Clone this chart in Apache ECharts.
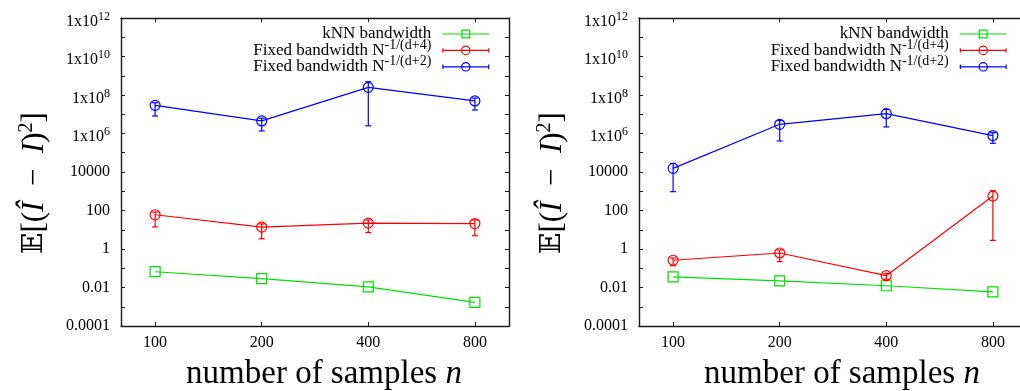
<!DOCTYPE html>
<html>
<head>
<meta charset="utf-8">
<script src="https://cdn.jsdelivr.net/npm/echarts@6/dist/echarts.min.js"></script>
<style>
  html, body { margin: 0; padding: 0; background: #fff; }
  #chart { width: 1020px; height: 391px; }
</style>
</head>
<body>
<div id="chart"></div>
<script>
// Sample sizes on the x axis (evenly spaced doublings)
const sampleSizes = ['100', '200', '400', '800'];

// Labels for the even decades of the log y axis, 1e-4 ... 1e12
const yTickLabels = ['0.0001', '0.01', '1', '100', '10000', '1x10^6', '1x10^8', '1x10^10', '1x10^12'];

const seriesNames = ['kNN bandwidth', 'Fixed bandwidth N^-1/(d+4)', 'Fixed bandwidth N^-1/(d+2)'];
const seriesColors = ['#00e000', '#ff0000', '#0000ff'];

// Left panel: mean squared error and error-bar ranges
const knnA = [0.066, 0.029, 0.0107, 0.0017];
const fixed4A = [60, 13.8, 22, 21];
const fixed4ALow = [14, 3.4, 7.1, 4.9];
const fixed4AHigh = [83, 20, 32, 32];
const fixed2A = [2.9e7, 4.5e6, 2.5e8, 4.9e7];
const fixed2ALow = [8.1e6, 1.35e6, 2.5e6, 1.66e7];
const fixed2AHigh = [4.0e7, 6.2e6, 4.9e8, 6.9e7];

// Right panel
const knnB = [0.036, 0.022, 0.0123, 0.0059];
const fixed4B = [0.26, 0.62, 0.041, 560];
const fixed4BLow = [0.135, 0.22, 0.027, 2.8];
const fixed4BHigh = [0.34, 0.89, 0.054, 1070];
const fixed2B = [1.55e4, 3.0e6, 1.07e7, 7.8e5];
const fixed2BLow = [950, 4.1e5, 2.2e6, 3.1e5];
const fixed2BHigh = [2.8e4, 4.7e6, 1.8e7, 1.1e6];

const SERIF = '"Liberation Serif", "Times New Roman", serif';
const FRAME = '#1a1a1a';

// Legend samples: line with marker, plus end caps for the error-bar series
const ICON_SQUARE = 'path://M0 4.4H19V5.6H0Z M28 4.4H47V5.6H28Z M20.2 4.4H26.8V5.6H20.2Z ' +
  'M19 0.5H28V9.5H19Z M20.2 1.7V8.3H26.8V1.7Z';
const ICON_CIRCLE_BAR = 'path://M0 2.8H1.2V7.2H0Z M45.8 2.8H47V7.2H45.8Z ' +
  'M0 4.4H18.7V5.6H0Z M28.3 4.4H47V5.6H28.3Z M19.9 4.4H27.1V5.6H19.9Z ' +
  'M28.3 5A4.8 4.8 0 1 1 18.7 5A4.8 4.8 0 1 1 28.3 5Z ' +
  'M27.1 5A3.6 3.6 0 1 0 19.9 5A3.6 3.6 0 1 0 27.1 5Z';
const legendIcons = [ICON_SQUARE, ICON_CIRCLE_BAR, ICON_CIRCLE_BAR];

function toPairs(values) {
  return values.map((v, i) => [i, v]);
}
function toBars(low, high) {
  return low.map((v, i) => [i, v, high[i]]);
}

function yLabel(value) {
  const e = Math.round(Math.log10(value));
  if (e % 2 !== 0) return '';
  const txt = yTickLabels[(e + 4) / 2];
  if (txt.indexOf('^') >= 0) {
    const parts = txt.split('^');
    return '{b|' + parts[0] + '}{sup|' + parts[1] + '}';
  }
  return txt;
}

// Every legend row gets a superscript slot so all rows share one line height
function legendLabel(name) {
  const parts = name.split('^');
  return '{m|' + parts[0] + '}{s|' + (parts[1] || '\u200b') + '}';
}

function renderErrorBar(params, api) {
  const x = api.value(0);
  const lo = api.coord([x, api.value(1)]);
  const hi = api.coord([x, api.value(2)]);
  const w = 3;
  const style = { stroke: api.visual('color'), lineWidth: 1.2, fill: null };
  return {
    type: 'group',
    children: [
      { type: 'line', shape: { x1: lo[0], y1: lo[1], x2: hi[0], y2: hi[1] }, style: style },
      { type: 'line', shape: { x1: lo[0] - w, y1: lo[1], x2: lo[0] + w, y2: lo[1] }, style: style },
      { type: 'line', shape: { x1: hi[0] - w, y1: hi[1], x2: hi[0] + w, y2: hi[1] }, style: style }
    ]
  };
}

const panels = [
  { left: 121, legendRight: 530.7, knn: knnA, f4: fixed4A, f4Low: fixed4ALow, f4High: fixed4AHigh,
    f2: fixed2A, f2Low: fixed2ALow, f2High: fixed2AHigh },
  { left: 639, legendRight: 13.3, knn: knnB, f4: fixed4B, f4Low: fixed4BLow, f4High: fixed4BHigh,
    f2: fixed2B, f2Low: fixed2BLow, f2High: fixed2BHigh }
];

const grid = [], xAxis = [], yAxis = [], series = [], legend = [];
const LEGEND_LINE = 24;

panels.forEach((p, k) => {
  grid.push({ left: p.left, top: 18, width: 388, height: 308, containLabel: false,
    outerBoundsMode: 'none' });

  const xBase = {
    gridIndex: k, type: 'value', min: -0.32, max: 3.32,
    splitLine: { show: false },
    axisLine: { show: true, onZero: false, lineStyle: { color: FRAME, width: 1.4 } },
    axisTick: { show: true, inside: true, length: 4, customValues: [0, 1, 2, 3],
      lineStyle: { color: FRAME, width: 1 } }
  };
  xAxis.push(Object.assign({}, xBase, {
    position: 'bottom',
    axisLabel: { show: true, customValues: [0, 1, 2, 3], margin: 9,
      formatter: v => sampleSizes[Math.round(v)],
      fontFamily: SERIF, fontSize: 16, color: '#000' },
    name: '{t|number of samples }{i|n}',
    nameLocation: 'middle', nameGap: 32,
    nameTextStyle: {
      padding: [0, 0, 0, 18],
      rich: {
        t: { fontFamily: SERIF, fontSize: 33, color: '#000' },
        i: { fontFamily: SERIF, fontSize: 33, fontStyle: 'italic', color: '#000' }
      }
    }
  }));
  xAxis.push(Object.assign({}, xBase, { position: 'top', axisLabel: { show: false } }));

  const yBase = {
    gridIndex: k, type: 'log', logBase: 10, min: 1e-4, max: 1e12, interval: 1,
    splitLine: { show: false },
    minorTick: { show: false },
    axisLine: { show: true, onZero: false, lineStyle: { color: FRAME, width: 1.4 } },
    axisTick: { show: true, inside: true, length: 4, lineStyle: { color: FRAME, width: 1 } }
  };
  yAxis.push(Object.assign({}, yBase, {
    position: 'left',
    axisLabel: {
      show: true, margin: 11, formatter: yLabel,
      fontFamily: SERIF, fontSize: 16, color: '#000',
      rich: {
        b: { fontFamily: SERIF, fontSize: 16, lineHeight: 16, color: '#000', padding: [7, 0, 0, 0] },
        sup: { fontFamily: SERIF, fontSize: 12, lineHeight: 16, color: '#000', padding: [0, 0, 3, 0] }
      }
    },
    name: '{bb|\u{1D53C}}{t|[(}{i|\u00CE}{t|  \u2212  }{i|I}{t|)}{s|2}{t|]}',
    nameLocation: 'middle', nameGap: 69, nameRotate: 90,
    nameTextStyle: {
      padding: [0, 22, 0, 0],
      rich: {
        bb: { fontFamily: '"DejaVu Serif", "DejaVu Sans", serif', fontSize: 28, lineHeight: 34, color: '#000' },
        t: { fontFamily: SERIF, fontSize: 31, lineHeight: 34, color: '#000' },
        i: { fontFamily: SERIF, fontSize: 31, lineHeight: 34, fontStyle: 'italic', color: '#000' },
        s: { fontFamily: SERIF, fontSize: 20, lineHeight: 34, color: '#000', padding: [0, 0, 16, 0] }
      }
    }
  }));
  yAxis.push(Object.assign({}, yBase, { position: 'right', axisLabel: { show: false } }));

  const xi = 2 * k, yi = 2 * k;
  const values = [p.knn, p.f4, p.f2];
  values.forEach((vals, s) => {
    series.push({
      type: 'line', name: seriesNames[s], xAxisIndex: xi, yAxisIndex: yi,
      data: toPairs(vals),
      symbol: s === 0 ? 'rect' : 'circle', symbolSize: 10,
      lineStyle: { color: seriesColors[s], width: 1.2 },
      itemStyle: { color: 'rgba(0,0,0,0)', borderColor: seriesColors[s], borderWidth: 1.2 },
      emphasis: { disabled: true }, silent: true, z: 3 + s
    });
  });
  [[p.f4Low, p.f4High, 1], [p.f2Low, p.f2High, 2]].forEach(([lo, hi, s]) => {
    series.push({
      type: 'custom', xAxisIndex: xi, yAxisIndex: yi,
      data: toBars(lo, hi),
      encode: { x: 0, y: [1, 2] },
      itemStyle: { color: seriesColors[s] },
      renderItem: renderErrorBar, silent: true, z: 3 + s
    });
  });

  legend.push({
    orient: 'vertical', align: 'right', right: p.legendRight, top: 22,
    padding: 0, itemGap: -4.1, itemWidth: 47, itemHeight: 10, selectedMode: false,
    data: seriesNames.map((n, s) => ({
      name: n, icon: legendIcons[s],
      itemStyle: { color: seriesColors[s], borderWidth: 0 }
    })),
    formatter: legendLabel,
    textStyle: {
      fontFamily: SERIF, fontSize: 17, color: '#000', padding: [0, 6, 0, 0],
      rich: {
        m: { fontFamily: SERIF, fontSize: 17, lineHeight: LEGEND_LINE, color: '#000', verticalAlign: 'middle' },
        s: { fontFamily: SERIF, fontSize: 14, lineHeight: LEGEND_LINE, color: '#000', verticalAlign: 'top' }
      }
    }
  });
});

const chart = echarts.init(document.getElementById('chart'), null, { renderer: 'canvas' });
chart.setOption({
  animation: false,
  backgroundColor: '#fff',
  grid: grid, xAxis: xAxis, yAxis: yAxis, legend: legend, series: series
});
</script>
</body>
</html>
